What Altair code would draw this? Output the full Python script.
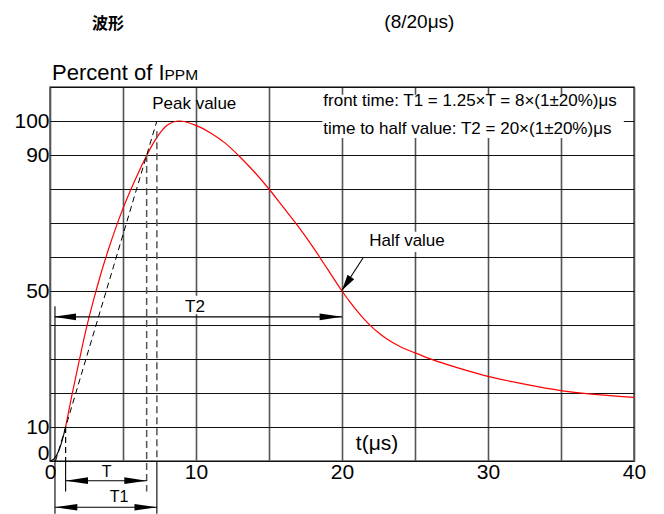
import altair as alt
import pandas as pd

# ---------------- values ----------------
# waveform foot (black) and main red waveform: time (us) / percent of IPPM
foot_t = [0.0, 0.3, 0.6, 0.85, 1.07]
foot_v = [0.0, 0.8, 3.0, 6.3, 10.0]
wave_t = [1.07, 1.5, 2.0, 2.5, 3.0, 3.5, 4.0, 4.5, 5.0, 5.5, 6.0, 6.5, 7.0, 7.5, 8.0, 8.86,
          10.0, 11.0, 12.0, 13.0, 14.0, 15.0, 16.0, 17.0, 18.0, 19.0, 20.0,
          20.5, 21.0, 21.5, 22.0, 22.5, 23.0, 24.0, 25.0, 26.0, 28.0, 30.0, 32.5, 35.0, 37.5, 40.0]
wave_v = [10, 19.4, 29.5, 39.2, 47.6, 55.3, 62.2, 68.5, 74.3, 79.5, 84.3, 88.8, 92.9, 96.3, 98.7, 100,
          98.7, 96.5, 93.5, 89.5, 85, 80, 74.5, 69, 63, 56.5, 50,
          47.0, 44.3, 41.8, 39.6, 37.7, 36.1, 33.6, 31.8, 30.1, 27.3, 24.9, 22.6, 20.7, 19.5, 18.7]
# virtual front line (dashed) through 10% and 90% points
tangent_t = [0.38, 7.32]
tangent_v = [0, 100]

# axes
x_grid = [0, 5, 10, 15, 20, 25, 30, 35, 40]
x_labels = [0, 10, 20, 30, 40]
y_grid = [0, 10, 20, 30, 40, 50, 60, 70, 80, 90, 100, 110]
y_labels = [0, 10, 50, 90, 100]

# time markers (us)
t10, t90 = 1.07, 6.62          # T  : 10% .. 90%
t1_start, t1_end = 0.34, 7.32  # T1 : virtual origin .. virtual peak
t_half = 20.0                  # T2 end (half value)

# annotation levels (percent)
lvl_T2 = 42.4
lvl_T = -5.8
lvl_T1 = -13.6
ext_short = -9.0
ext_long = -15.5

FONT = "Liberation Sans"

xs = alt.Scale(domain=[0, 40], nice=False, zero=False)
ys = alt.Scale(domain=[0, 110], nice=False, zero=False)

ax_x = alt.Axis(
    values=x_grid, grid=True, gridColor="#555555", gridWidth=1.6,
    ticks=False, tickSize=0, domain=False, title=None,
    labelExpr="indexof(%s, datum.value) >= 0 ? datum.label : ''" % str(x_labels),
    labelFont=FONT, labelFontSize=21, labelColor="black", labelPadding=0,
    labelFlush=False, labelOverlap=False)
ax_y = alt.Axis(
    values=y_grid, grid=True, gridColor="#111111", gridWidth=1.1,
    ticks=False, tickSize=0, domain=False, title=None,
    labelExpr="indexof(%s, datum.value) >= 0 ? datum.label : ''" % str(y_labels),
    labelFont=FONT, labelFontSize=21, labelColor="black", labelPadding=1,
    labelFlush=True, labelFlushOffset=2, labelOverlap=False)


def X(f):
    return alt.X(f, type="quantitative", scale=xs, axis=ax_x)


def Y(f):
    return alt.Y(f, type="quantitative", scale=ys, axis=ax_y)


# ---------------- layers ----------------
wave_df = pd.DataFrame({"x": wave_t, "y": wave_v})
base = alt.Chart(wave_df).mark_line(color="#ff0000", strokeWidth=1.2, interpolate="monotone").encode(
    x=X("x"), y=Y("y"))

foot = alt.Chart(pd.DataFrame({"x": foot_t, "y": foot_v})).mark_line(
    color="black", strokeWidth=1.1, interpolate="monotone").encode(x=X("x"), y=Y("y"))

tangent = alt.Chart(pd.DataFrame({"x": tangent_t, "y": tangent_v})).mark_line(
    color="black", strokeWidth=1.0, strokeDash=[6, 4]).encode(x=X("x"), y=Y("y"))

# white boxes behind labels inside the grid
boxes = pd.DataFrame({
    "x": [18.65, 21.64, 9.18],
    "x2": [39.3, 27.26, 10.68],
    "y": [95.0, 61.5, 43.2],
    "y2": [107.7, 67.4, 48.6],
})
box_layer = alt.Chart(boxes).mark_rect(color="white").encode(
    x=X("x"), x2="x2", y=Y("y"), y2="y2")

# gray dashed verticals at 90% and virtual peak
gray_dash = pd.DataFrame({
    "x": [t90, t1_end], "x2": [t90, t1_end],
    "y": [90, 97], "y2": [ext_short, 0],
})
gray_layer = alt.Chart(gray_dash).mark_rule(color="#555555", strokeWidth=1.5, strokeDash=[7, 4]).encode(
    x=X("x"), x2="x2", y=Y("y"), y2="y2")

black_dash = pd.DataFrame({"x": [t10], "x2": [t10], "y": [10], "y2": [0]})
black_dash_layer = alt.Chart(black_dash).mark_rule(color="black", strokeWidth=1.2, strokeDash=[6, 4]).encode(
    x=X("x"), x2="x2", y=Y("y"), y2="y2")

solid = pd.DataFrame({
    "x":  [t1_start, t10, t1_start, t1_start, t10, t1_end, 21.44],
    "x2": [t_half, t90, t1_end, t1_start, t10, t1_end, t_half],
    "y":  [lvl_T2, lvl_T, lvl_T1, 45.5, 0, 0, 59.7],
    "y2": [lvl_T2, lvl_T, lvl_T1, ext_long, ext_short, ext_long, 50.2],
})
solid_layer = alt.Chart(solid).mark_rule(color="black", strokeWidth=1.1).encode(
    x=X("x"), x2="x2", y=Y("y"), y2="y2")

heads = pd.DataFrame({
    "x": [0.25, t_half, t10, t90, t1_start, t1_end],
    "y": [lvl_T2, lvl_T2, lvl_T, lvl_T, lvl_T1, lvl_T1],
    "a": [0, 180, 0, 180, 0, 180],
})
head_layer = alt.Chart(heads).mark_point(
    shape="M0,0L2,-0.3L2,0.3Z", filled=True, color="black", opacity=1, size=500, strokeWidth=0
).encode(x=X("x"), y=Y("y"), angle=alt.Angle("a:Q", scale=None))

half_head = alt.Chart(pd.DataFrame({"x": [t_half], "y": [50.2], "a": [303.7]})).mark_point(
    shape="M0,0L2,-0.5L2,0.5Z", filled=True, color="black", opacity=1, size=256, strokeWidth=0
).encode(x=X("x"), y=Y("y"), angle=alt.Angle("a:Q", scale=None))


def label(x, y, text, size, align="center", baseline="middle", font=FONT, weight="normal"):
    return alt.Chart(pd.DataFrame({"x": [x], "y": [y], "text": [text]})).mark_text(
        font=font, fontSize=size, align=align, baseline=baseline, color="black", fontWeight=weight
    ).encode(x=X("x"), y=Y("y"), text="text:N")


texts = [
    label(3.97, 128.6, "波形", 16, font="Noto Sans CJK SC", weight="bold"),
    label(25.3, 129.2, "(8/20μs)", 19),
    label(0.14, 112.1, "Percent of I", 22, align="left", baseline="alphabetic"),
    label(7.84, 112.1, "PPM", 15.5, align="left", baseline="alphabetic"),
    label(9.88, 105.0, "Peak value", 17),
    label(18.72, 106.0, "front time: T1 = 1.25×T = 8×(1±20%)μs", 17, align="left"),
    label(18.72, 97.6, "time to half value: T2 = 20×(1±20%)μs", 17, align="left"),
    label(24.45, 64.7, "Half value", 17),
    label(9.93, 45.4, "T2", 17),
    label(22.4, 5.0, "t(μs)", 21),
    label(3.88, -3.1, "T", 16),
    label(4.73, -10.6, "T1", 16),
]

chart = alt.layer(
    base, box_layer, foot, tangent, gray_layer, black_dash_layer, solid_layer,
    head_layer, half_head, *texts
).properties(
    width=584, height=374,
    autosize=alt.AutoSizeParams(type="none"),
    padding={"left": 42, "top": 79, "right": 22, "bottom": 53},
    background="white",
).configure_view(stroke="#555555", strokeWidth=1.5)

chart.save("out.html", embed_options={"renderer": "svg", "actions": False})
